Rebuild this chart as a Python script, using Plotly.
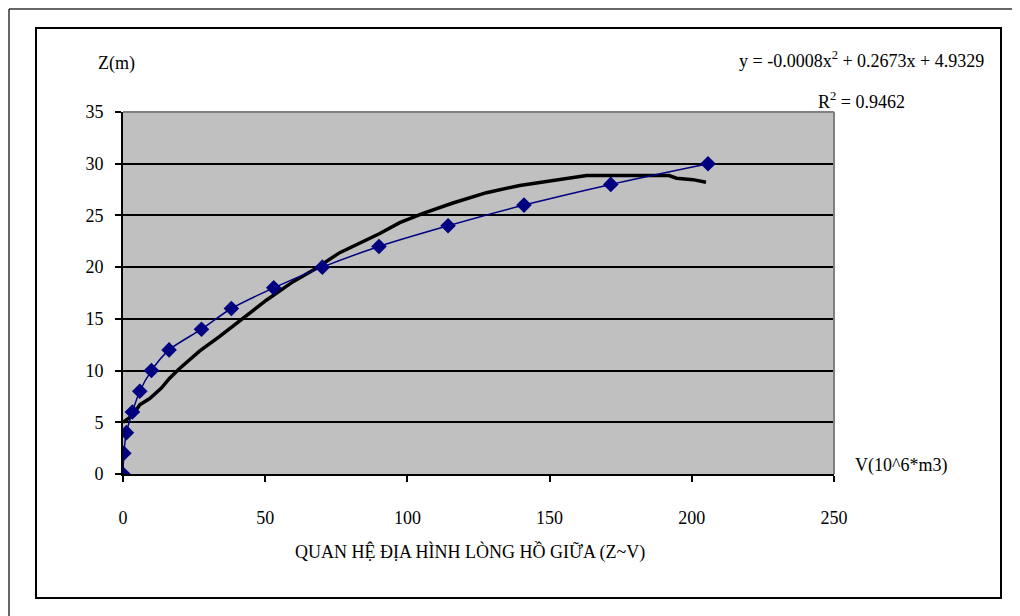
import plotly.graph_objects as go

# Observed data (blue diamonds)
obs_v = [0, 0.3, 1.2, 3.3, 5.9, 10, 16.2, 27.6, 38.1, 53, 70.1, 90, 114.3, 141, 171.5, 205.7]
obs_z = [0, 2, 4, 6, 8, 10, 12, 14, 16, 18, 20, 22, 24, 26, 28, 30]

# Trend curve (black)
trend_v = [0, 3.5, 5.9, 9.4, 13.5, 16.4, 19.9, 27, 34, 42.2, 50.4, 59.8, 67.4, 76.2, 85.6,
           90.3, 97.3, 105.5, 116, 127.8, 139.5, 151.2, 159.4, 163, 192, 194.6, 200.4, 205]
trend_z = [5.0, 5.7, 6.7, 7.3, 8.3, 9.26, 10.2, 11.9, 13.3, 15.07, 16.8, 18.6, 19.8, 21.4, 22.65,
           23.25, 24.3, 25.2, 26.2, 27.2, 27.9, 28.4, 28.7, 28.85, 28.85, 28.6, 28.46, 28.2]

x_ticks = [0, 50, 100, 150, 200, 250]
y_ticks = [0, 5, 10, 15, 20, 25, 30, 35]

OFF = 8  # page body offset
W, H = 1020 - OFF, 616 - OFF
L, R, T, B = 123 - OFF, 834 - OFF, 112 - OFF, 474 - OFF


def px(x):
    return (x - OFF - L) / (R - L)


def py(y):
    return (B - (y - OFF)) / (B - T)


FONT = "Liberation Serif"

fig = go.Figure()
fig.add_trace(go.Scatter(
    x=trend_v, y=trend_z, mode="lines",
    line=dict(color="black", width=3.5), showlegend=False, hoverinfo="skip"))
fig.add_trace(go.Scatter(
    x=obs_v, y=obs_z, mode="lines+markers",
    line=dict(color="#000080", width=1.5, shape="spline", smoothing=0.8),
    marker=dict(symbol="diamond", size=12, color="#000080"),
    showlegend=False))

shapes = [
    # plot border top and right (gray)
    dict(type="line", xref="paper", yref="paper", x0=0, x1=1, y0=1, y1=1,
         line=dict(color="#808080", width=2), layer="above"),
    dict(type="line", xref="paper", yref="paper", x0=1, x1=1, y0=0, y1=1,
         line=dict(color="#808080", width=2), layer="above"),
    # inner frame
    dict(type="rect", xref="paper", yref="paper", x0=px(36), x1=px(1001), y0=py(598), y1=py(28),
         line=dict(color="black", width=2)),
    # outer frame (top and left visible)
    dict(type="line", xref="paper", yref="paper", x0=px(9), x1=px(1020), y0=py(9), y1=py(9),
         line=dict(color="#333333", width=1.5)),
    dict(type="line", xref="paper", yref="paper", x0=px(9), x1=px(9), y0=py(9), y1=py(616),
         line=dict(color="#333333", width=1.5)),
]

annotations = [
    dict(text="Z(m)", x=px(116), y=py(64), xref="paper", yref="paper", showarrow=False,
         font=dict(family=FONT, size=18, color="black"), xanchor="center", yanchor="middle"),
    dict(text="V(10^6*m3)", x=px(853), y=py(465), xref="paper", yref="paper", showarrow=False,
         font=dict(family=FONT, size=18, color="black"), xanchor="left", yanchor="middle"),
    dict(text="QUAN HỆ ĐỊA HÌNH LÒNG HỒ GIỮA (Z~V)", x=px(470), y=py(552), xref="paper", yref="paper",
         showarrow=False, font=dict(family=FONT, size=18, color="black"),
         xanchor="center", yanchor="middle"),
    dict(text="y = -0.0008x<sup>2</sup> + 0.2673x + 4.9329", x=px(861), y=py(60), xref="paper",
         yref="paper", showarrow=False, font=dict(family=FONT, size=18, color="black"),
         xanchor="center", yanchor="middle"),
    dict(text="R<sup>2</sup> = 0.9462", x=px(861), y=py(100), xref="paper", yref="paper",
         showarrow=False, font=dict(family=FONT, size=18, color="black"),
         xanchor="center", yanchor="middle"),
]

fig.update_layout(
    width=W, height=H,
    margin=dict(l=L, r=W - R, t=T, b=H - B, pad=0),
    paper_bgcolor="white", plot_bgcolor="#C0C0C0",
    shapes=shapes, annotations=annotations,
    font=dict(family=FONT, size=18, color="black"),
    xaxis=dict(range=[0, 250], tickvals=x_ticks, ticktext=[str(v) for v in x_ticks],
               showgrid=False, zeroline=False, showline=True, linecolor="black", linewidth=2,
               ticks="outside", ticklen=6, tickwidth=1.5, tickcolor="black",
               ticklabelstandoff=20, tickfont=dict(family=FONT, size=18, color="black")),
    yaxis=dict(range=[0, 35], tickvals=y_ticks, ticktext=[str(v) for v in y_ticks],
               showgrid=True, gridcolor="black", gridwidth=2, zeroline=False,
               showline=True, linecolor="black", linewidth=2,
               ticks="outside", ticklen=6, tickwidth=1.5, tickcolor="black",
               ticklabelstandoff=8, tickfont=dict(family=FONT, size=18, color="black")),
)

fig.write_html("out.html")
